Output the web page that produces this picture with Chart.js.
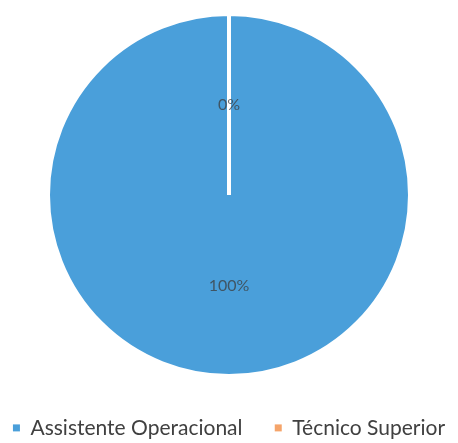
<!DOCTYPE html>
<html>
<head>
<meta charset="utf-8">
<script src="https://cdn.jsdelivr.net/npm/chart.js@4/dist/chart.umd.min.js"></script>
<style>
  html, body { margin: 0; padding: 0; background: #fff; }
  #wrap { width: 458px; height: 443px; }
</style>
</head>
<body>
<div id="wrap"><canvas id="pieChart"></canvas></div>
<script>
// data
var categories = ['Assistente Operacional', 'Técnico Superior']
var values     = [100, 0]
var colors     = ['#4a9fda', '#f5a46a']

// draws the percent labels in the middle of each slice
var pctLabels = {
  id: 'pctLabels',
  afterDatasetsDraw: function (chart) {
    var ctx   = chart.ctx
    var meta  = chart.getDatasetMeta(0)
    var total = values.reduce(function (a, b) { return a + b }, 0)
    ctx.save()
    ctx.font = '16px Lato'
    ctx.fillStyle = 'rgba(60,60,60,0.75)'
    ctx.textAlign = 'center'
    ctx.textBaseline = 'middle'
    meta.data.forEach(function (arc, i) {
      var pos = arc.tooltipPosition()
      ctx.fillText(Math.round(values[i] / total * 100) + '%', pos.x, pos.y)
    })
    ctx.restore()
  }
}

var pieCanvas = document.getElementById('pieChart').getContext('2d')
var pieChart = new Chart(pieCanvas, {
  type: 'pie',
  data: {
    labels: categories,
    datasets: [{
      data: values,
      backgroundColor: colors,
      borderColor: '#ffffff',
      borderWidth: 4
    }]
  },
  options: {
    maintainAspectRatio: false,
    responsive: true,
    animation: false,
    layout: { padding: { top: 12 } },
    plugins: {
      tooltip: { enabled: false },
      legend: {
        position: 'bottom',
        maxHeight: 65,
        // empty title only used to push the row down
        title: { display: true, text: ' ', font: { size: 12 }, padding: { top: 0, bottom: 19 } },
        labels: {
          boxWidth: 7,
          boxHeight: 7,
          padding: 6,
          color: '#404040',
          font: { family: 'Lato', size: 21 },
          generateLabels: function (chart) {
            var items = Chart.controllers.pie.overrides.plugins.legend.labels.generateLabels(chart)
            items.forEach(function (it, i) {
              it.lineWidth = 0
              if (i < items.length - 1) it.text = it.text + '\u2003\u2002'
            })
            return items
          }
        }
      }
    }
  },
  plugins: [pctLabels]
})
</script>
</body>
</html>
